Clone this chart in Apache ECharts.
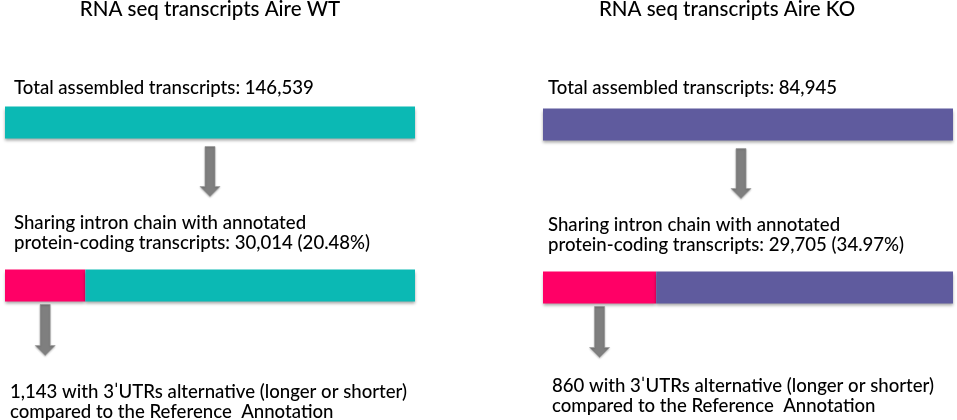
<!DOCTYPE html>
<html>
<head>
<meta charset="utf-8">
<script src="https://cdn.jsdelivr.net/npm/echarts@6/dist/echarts.min.js"></script>
<style>
  html, body { margin: 0; padding: 0; background: #fff; }
  #chart { width: 957px; height: 420px; }
</style>
</head>
<body>
<div id="chart"></div>
<script>
'use strict';

// data
var panelTitles = ['RNA seq transcripts Aire WT', 'RNA seq transcripts Aire KO'];
var totalLabels = ['Total assembled transcripts: 146,539', 'Total assembled transcripts: 84,945'];
var sharedLabels = [
    ['Sharing intron chain with annotated', 'protein-coding transcripts: 30,014 (20.48%)'],
    ['Sharing intron chain with annotated', 'protein-coding transcripts: 29,705 (34.97%)']
];
var utrLabels = [
    ['1,143 with 3ˈUTRs alternative (longer or shorter)', 'compared to the Reference  Annotation'],
    ['860 with 3ˈUTRs alternative (longer or shorter)', 'compared to the Reference  Annotation']
];
var rows = ['total', 'shared'];
var fullBar = [100, 100];
// pink part of the second bar, as drawn (% of bar length)
var sharedDrawn = [19.6, 27.6];

// layout / style
var restColors = ['#0bb9b4', '#5f5b9e'];
var pink = '#ff0066';
var arrowGray = '#7f7f7f';
var font = 'Lato';
var gridLeft = [5, 543];
var gridTop = [41, 43];
var titleX = [210, 727];
var textX = [14, 548];
var utrX = [10, 552];
var firstArrowAt = [50, 48.3];

var chart = echarts.init(document.getElementById('chart'));

var grids = [], xAxes = [], yAxes = [], series = [];
var barShadow = {shadowColor: 'rgba(0,0,0,0.35)', shadowBlur: 3, shadowOffsetY: 2};

for (var p = 0; p < 2; p++) {
    grids.push({left: gridLeft[p], top: gridTop[p], width: 410, height: 326});
    xAxes.push({gridIndex: p, type: 'value', min: 0, max: 100, show: false});
    yAxes.push({gridIndex: p, type: 'category', data: rows, inverse: true, show: false});
    series.push({
        type: 'bar', xAxisIndex: p, yAxisIndex: p, stack: 'p' + p,
        barWidth: 32, silent: true,
        data: [0, sharedDrawn[p]],
        itemStyle: Object.assign({color: pink}, barShadow)
    });
    series.push({
        type: 'bar', xAxisIndex: p, yAxisIndex: p, stack: 'p' + p,
        barWidth: 32, silent: true,
        data: [fullBar[0], fullBar[1] - sharedDrawn[p]],
        itemStyle: Object.assign({color: restColors[p]}, barShadow)
    });
}

chart.setOption({
    animation: false,
    grid: grids,
    xAxis: xAxes,
    yAxis: yAxes,
    series: series
});

function textEl(x, y, str, size, align) {
    return {
        type: 'text', x: x, y: y, silent: true,
        style: {
            text: str, fontFamily: font, fontSize: size, fill: '#000',
            fontWeight: 500, align: align || 'left', verticalAlign: 'top', lineHeight: 20
        }
    };
}

function arrowEl(cx, y0, y1) {
    var sw = 5, hw = 10, hh = 10;
    return {
        type: 'polygon', silent: true,
        shape: {points: [
            [cx - sw, y0], [cx + sw, y0], [cx + sw, y1 - hh], [cx + hw, y1 - hh],
            [cx, y1], [cx - hw, y1 - hh], [cx - sw, y1 - hh]
        ]},
        style: {fill: arrowGray, stroke: '#9a9a9a', lineWidth: 0.6,
            shadowColor: 'rgba(0,0,0,0.25)', shadowBlur: 2, shadowOffsetY: 1}
    };
}

var graphics = [];
for (var q = 0; q < 2; q++) {
    var b1 = chart.convertToPixel({gridIndex: q}, [firstArrowAt[q], 0]);
    var b2 = chart.convertToPixel({gridIndex: q}, [sharedDrawn[q] / 2, 1]);
    graphics.push(arrowEl(b1[0], b1[1] + 24, b1[1] + 74));
    graphics.push(arrowEl(b2[0], b2[1] + 19, b2[1] + 70));
    graphics.push(textEl(titleX[q], -1, panelTitles[q], 20.5, 'center'));
    graphics.push(textEl(textX[q], 78, totalLabels[q], 18.6));
    graphics.push(textEl(textX[q], 213 + q * 2, sharedLabels[q].join('\n'), 18.6));
    graphics.push(textEl(utrX[q], 382 - q * 6, utrLabels[q].join('\n'), 18.6));
}
chart.setOption({graphic: graphics});
</script>
</body>
</html>
